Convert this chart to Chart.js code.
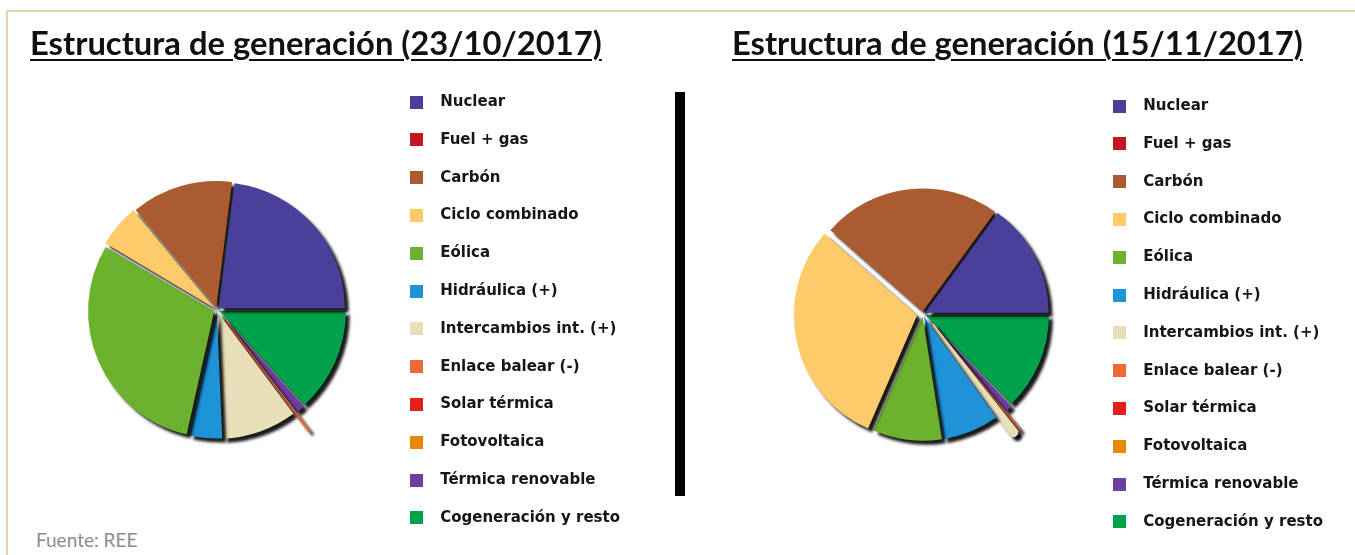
<!DOCTYPE html>
<html lang="es">
<head>
<meta charset="utf-8">
<title>Estructura de generación</title>
<script src="https://cdn.jsdelivr.net/npm/chart.js@4.4.1/dist/chart.umd.min.js"></script>
<style>
  html, body { margin: 0; padding: 0; background: #fff; }
  body { width: 1355px; height: 555px; position: relative; overflow: hidden; font-family: Lato, sans-serif; }
  .marco-sup { position: absolute; left: 6px; top: 10px; width: 1349px; height: 2px; background: #e4d3a2; }
  .marco-izq { position: absolute; left: 6px; top: 10px; width: 2px; height: 545px; background: #e4d3a2; }
  .titulo { position: absolute; font-family: Lato, sans-serif; font-weight: 700; color: #111; white-space: nowrap;
            line-height: normal; text-decoration: underline; text-decoration-thickness: 2px; text-underline-offset: 4px; z-index: 2; }
  .separador { position: absolute; left: 675px; top: 92px; width: 10px; height: 404px; background: #000; }
  .fuente { position: absolute; left: 36px; font-family: Lato, sans-serif; font-weight: 400; font-size: 19px; color: #8c8c8c; line-height: normal; white-space: nowrap; }
  canvas { position: absolute; z-index: 1; }
</style>
</head>
<body>
<div class="marco-sup"></div>
<div class="marco-izq"></div>
<div class="titulo" id="tit1">Estructura de generación (23/10/2017)</div>
<div class="titulo" id="tit2">Estructura de generación (15/11/2017)</div>
<div class="separador"></div>
<div class="fuente" id="fuente">Fuente: REE</div>
<canvas id="tarta1"></canvas>
<canvas id="tarta2"></canvas>

<script>
/* ---------- datos (orden de la leyenda) ---------- */
const categorias = ['Nuclear', 'Fuel + gas', 'Carbón', 'Ciclo combinado', 'Eólica', 'Hidráulica (+)',
  'Intercambios int. (+)', 'Enlace balear (-)', 'Solar térmica', 'Fotovoltaica', 'Térmica renovable', 'Cogeneración y resto'];
const colores = ['#48409a', '#c0181e', '#aa5b32', '#fdcb69', '#6db22e', '#1f93d8',
  '#e6dfba', '#ee6a35', '#e3201e', '#e8870b', '#6b3fa0', '#00a24c'];
const valores231017 = [23, 0, 13, 5.5, 30, 4.2, 9.5, 0.3, 0, 0, 1.2, 13.3];
const valores151117 = [15, 0, 23.5, 30, 9, 7.4, 1, 0.3, 0, 0, 1, 12.8];

/* ---------- estilo de las porciones ---------- */
// desplazamiento de cada porción (Chart.js lo aplica dividido entre 4)
const despl231017 = [10, 0, 10, 10, 12, 6, 8, 52, 0, 0, 8, 10];
const despl151117 = [10, 0, 10, 24, 10, 10, 58, 56, 0, 0, 10, 10];
// las porciones finas se engruesan con un borde de su propio color
const bordeFino231017 = [0, 0, 0, 0, 0, 0, 0, 2.5, 0, 0, 0, 0];
const bordeFino151117 = [0, 0, 0, 0, 0, 0, 5, 3, 0, 0, 0, 0];

/* ---------- medidas ---------- */
const FUENTE_LEY = { family: "'DejaVu Sans', sans-serif", size: 15, weight: 'bold' };
const PAD_LEY = 22.8;     // separación vertical entre elementos
const CAJA_ANCHO = 32;    // hueco reservado para el cuadro de color
const CAJA = 13;
const ALTO = 500;

function cuadro(color){
  const c = document.createElement('canvas');
  c.width = CAJA; c.height = CAJA;
  const g = c.getContext('2d');
  g.fillStyle = color; g.fillRect(0, 0, CAJA, CAJA);
  return c;
}
function anchoLeyenda(){
  const g = document.createElement('canvas').getContext('2d');
  g.font = `${FUENTE_LEY.weight} ${FUENTE_LEY.size}px ${FUENTE_LEY.family}`;
  const maxTxt = Math.max(...categorias.map(t => g.measureText(t).width));
  // Chart.js suma 10px al ancho de una leyenda vertical
  return PAD_LEY + CAJA_ANCHO + FUENTE_LEY.size / 2 + maxTxt + 10;
}

const sombra = {
  id: 'sombra',
  beforeDatasetsDraw(chart){
    const c = chart.ctx;
    c.save();
    c.shadowColor = 'rgba(0,0,0,0.9)';
    c.shadowBlur = 3;
    c.shadowOffsetX = 4;
    c.shadowOffsetY = 4;
  },
  afterDatasetsDraw(chart){ chart.ctx.restore(); }
};

function tarta(id, valores, despl, bordeFino, cx, cy, radio, cajaX){
  // la tarta va en sentido antihorario desde las 3: se invierte el orden y la leyenda
  const lw = anchoLeyenda();
  const legIzq = cajaX - PAD_LEY - (CAJA_ANCHO - CAJA) / 2;
  const left = 2 * cx - legIzq;
  const width = Math.round(legIzq - left + lw);
  const top = cy - ALTO / 2;
  const cv = document.getElementById(id);
  cv.style.left = left + 'px'; cv.style.top = top + 'px';
  cv.width = width; cv.height = ALTO;
  cv.style.width = width + 'px'; cv.style.height = ALTO + 'px';

  const colorBorde = bordeFino.map((b, i) => b ? colores[i] : 'rgba(0,0,0,0)');

  return new Chart(cv, {
    type: 'pie',
    data: {
      labels: categorias.slice().reverse(),
      datasets: [{
        data: valores.slice().reverse(),
        backgroundColor: colores.slice().reverse(),
        offset: despl.slice().reverse(),
        borderWidth: bordeFino.slice().reverse(),
        borderColor: colorBorde.reverse(),
        clip: false
      }]
    },
    options: {
      responsive: false,
      maintainAspectRatio: false,
      animation: false,
      rotation: 90,
      radius: radio,
      layout: { padding: 0 },
      plugins: {
        tooltip: { enabled: false },
        legend: {
          position: 'right',
          reverse: true,
          labels: {
            usePointStyle: true,
            pointStyleWidth: CAJA_ANCHO,
            padding: PAD_LEY,
            color: '#161616',
            font: FUENTE_LEY,
            generateLabels(chart){
              const items = Chart.overrides.doughnut.plugins.legend.labels.generateLabels(chart);
              return items.map(it => Object.assign(it, { pointStyle: cuadro(it.fillStyle), lineWidth: 0 }));
            }
          }
        }
      }
    },
    plugins: [sombra]
  });
}

tarta('tarta1', valores231017, despl231017, bordeFino231017, 217, 310, 126, 410);
tarta('tarta2', valores151117, despl151117, bordeFino151117, 923, 314, 123, 1113);

/* ---------- títulos ---------- */
function colocarTexto(el, x, anchoObjetivo, lineaBase){
  el.style.fontSize = '32px';
  const w = el.getBoundingClientRect().width;
  const fs = anchoObjetivo ? 32 * anchoObjetivo / w : 32;
  el.style.fontSize = fs + 'px';
  el.style.left = x + 'px';
  el.style.top = (lineaBase - 0.987 * fs) + 'px';
}
colocarTexto(document.getElementById('tit1'), 30, 572, 55);
colocarTexto(document.getElementById('tit2'), 732, 571, 55);
const fte = document.getElementById('fuente');
fte.style.top = (546.5 - 0.987 * 19) + 'px';
</script>
</body>
</html>
